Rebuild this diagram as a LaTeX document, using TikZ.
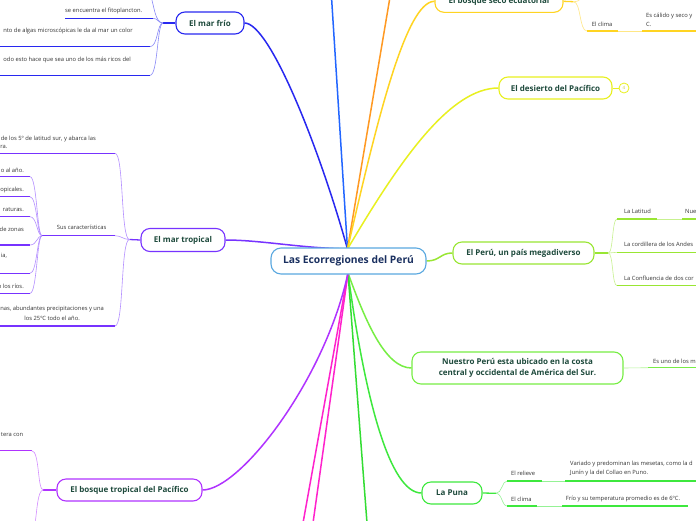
\documentclass[tikz,border=0pt]{standalone}
\usepackage{fontspec}
\setmainfont{Open Sans}
\definecolor{cblue1}{HTML}{2828F0}
\definecolor{cblue2}{HTML}{2266FF}
\definecolor{corange}{HTML}{FF9922}
\definecolor{cgold}{HTML}{FFD422}
\definecolor{cyellow}{HTML}{E8F020}
\definecolor{clime}{HTML}{99E633}
\definecolor{clime2}{HTML}{77EE44}
\definecolor{cgreen}{HTML}{3EE83E}
\definecolor{cgreen2}{HTML}{33DD33}
\definecolor{cmagenta}{HTML}{FF22CC}
\definecolor{cviolet}{HTML}{B033FF}
\definecolor{cpurple}{HTML}{7733FF}
\definecolor{ccentral}{HTML}{5AA8E0}
\definecolor{nodetxt}{HTML}{1E4A3C}
\definecolor{centraltxt}{HTML}{1A3060}
\definecolor{txtgray}{HTML}{333333}
\pgfdeclarelayer{bg}
\pgfsetlayers{bg,main}
\begin{document}
\begin{tikzpicture}[x=1pt,y=-1pt,
  topic/.style={draw=#1, line width=1.1pt, rounded corners=9pt, fill=white, text=nodetxt,
    font=\bfseries\fontsize{8}{10.5}\selectfont, inner sep=0pt, align=center},
  branch/.style={line width=1.5pt, draw=#1},
  conn/.style={line width=0.6pt, draw=#1!55},
  uline/.style={line width=1.3pt, draw=#1},
  lbl/.style={font=\fontsize{5.8}{9}\selectfont, text=txtgray, inner sep=0pt, align=left},
]
\useasboundingbox (0,0) rectangle (696,520);

% ---------- main nodes ----------
\node[topic=ccentral, text=centraltxt, font=\bfseries\fontsize{10.3}{12}\selectfont,
  minimum width=155pt, minimum height=26pt, rounded corners=10pt] (cen) at (348.5,261) {Las Ecorregiones del Perú};
\node[topic=cblue1, minimum width=68pt, minimum height=22pt] (frio) at (210,23) {El mar frío};
\node[topic=cpurple, minimum width=84pt, minimum height=23pt] (tropical) at (183,240) {El mar tropical};
\node[topic=cviolet, minimum width=145pt, minimum height=22pt] (bosquetrop) at (129.5,490) {El bosque tropical del Pacífico};
\node[topic=cgold, minimum width=128pt, minimum height=22pt] (seco) at (499,1.3) {El bosque seco ecuatorial};
\node[topic=cyellow, minimum width=113pt, minimum height=22pt] (desierto) at (555.5,88) {El desierto del Pacífico};
\node[circle, draw=cyellow, line width=0.8pt, minimum size=10pt, inner sep=0pt, fill=white,
  text=cyellow!70!gray, font=\fontsize{4.5}{5}\selectfont] (cnt) at (624,88) {4};
\node[topic=clime, minimum width=141pt, minimum height=22pt] (mega) at (523.5,253) {El Perú, un país megadiverso};
\node[topic=clime2, minimum width=211pt, minimum height=32pt] (nuestro) at (517.5,368) {Nuestro Perú esta ubicado en la costa\\central y occidental de América del Sur.};
\node[topic=cgreen, minimum width=60pt, minimum height=22pt] (puna) at (452,493) {La Puna};

% ---------- hub / free-end coordinates ----------
\coordinate (T) at (347.5,249);
\coordinate (B) at (348,273);
\coordinate (upblue) at (331.5,-3);
\coordinate (uporange) at (390,-3);
\coordinate (downgreen) at (367,523);
\coordinate (downmag1) at (303,523);
\coordinate (downmag2) at (313,523);

\begin{pgfonlayer}{bg}
\fill[white] (0,0) rectangle (696,520);
\draw[branch=cblue1] (T) .. controls (320,150) and (270,23) .. (frio.east);
\draw[branch=cblue2] (T) -- (upblue);
\draw[branch=corange] (T) -- (uporange);
\draw[branch=cgold] (T) .. controls (375,130) and (405,1.3) .. (seco.west);
\draw[branch=cyellow] (T) .. controls (400,160) and (450,88) .. (desierto.west);
\draw[branch=cpurple] (T) .. controls (300,248) and (260,240) .. (tropical.east);
\draw[branch=clime] (cen.east) .. controls (440,261) and (440,253) .. (mega.west);
\draw[branch=clime2] (B) .. controls (365,320) and (385,368) .. (nuestro.west);
\draw[branch=cgreen] (B) .. controls (365,400) and (390,493) .. (puna.west);
\draw[branch=cgreen2] (B) -- (downgreen);
\draw[branch=cmagenta] (B) -- (downmag1);
\draw[branch=cmagenta] (B) -- (downmag2);
\draw[branch=cviolet] (B) .. controls (325,380) and (240,490) .. (bosquetrop.east);
\end{pgfonlayer}

% ---------- El mar frío ----------
\coordinate (frioH) at (163,23);
\draw[uline=cblue1] (frio.west) -- (frioH);
\coordinate (f0) at (151,-3);
\draw[conn=cblue1] (frioH) .. controls +(-8,0) and +(3,8) .. (f0);
\node[lbl, anchor=west] (fito) at (65,11) {se encuentra el fitoplancton.};
\coordinate (fitoL) at (65,18.3); \coordinate (fitoR) at (153,18.3);
\draw[uline=cblue1] (fitoL) -- (fitoR);
\draw[conn=cblue1] (fitoR) .. controls +(5,0) and +(-5,0) .. (frioH);
\node[lbl, anchor=east] (algas) at (133,31) {nto de algas microscópicas le da al mar un color};
\coordinate (algasL) at (-3,46.7); \coordinate (algasR) at (150,46.7);
\draw[uline=cblue1] (algasL) -- (algasR);
\draw[conn=cblue1] (algasR) .. controls +(8,0) and +(-6,0) .. (frioH);
\node[lbl, anchor=east] (ricos) at (131,60) {odo esto hace que sea uno de los más ricos del};
\coordinate (ricosL) at (-3,75.3); \coordinate (ricosR) at (150,75.3);
\draw[uline=cblue1] (ricosL) -- (ricosR);
\draw[conn=cblue1] (ricosR) .. controls +(8,0) and +(-6,0) .. (frioH);

% ---------- El mar tropical ----------
\coordinate (tropH) at (129.5,239.5);
\draw[uline=cpurple] (tropical.west) -- (tropH);
\node[lbl, anchor=east] (lat1) at (96,139) {de los 5º de latitud sur, y abarca las};
\node[lbl, anchor=east] (lat2) at (7.5,146.7) {ra.};
\coordinate (latL) at (-3,153.3); \coordinate (latR) at (115,153.3);
\draw[uline=cpurple] (latL) -- (latR);
\draw[conn=cpurple] (latR) .. controls +(9,0) and +(-9,0) .. (tropH);

\node[lbl, anchor=west] (sus) at (56.7,227.7) {Sus características};
\coordinate (susL) at (42,235.7); \coordinate (susR) at (115,235.7);
\draw[uline=cpurple] (susL) -- (susR);
\draw[conn=cpurple] (susR) .. controls +(6,0) and +(-6,0) .. (tropH);

\foreach \nm/\tx/\ty/\uy/\txt in {s1/24/170/176.7/{o al año.}, s2/24/190/196.7/{opicales.},
  s3/24/210/216.7/{raturas.}, s4/24/229/245/{de zonas}, s5/7.3/256/273.3/{ia,},
  s6/24/286.7/293.3/{n los ríos.}}{
  \node[lbl, anchor=east] (\nm) at (\tx,\ty) {\txt};
  \coordinate (\nm L) at (-3,\uy); \coordinate (\nm R) at (30,\uy);
  \draw[uline=cpurple] (\nm L) -- (\nm R);
  \draw[conn=cpurple] (\nm R) .. controls +(7,0) and +(-5,0) .. (susL);
}

\node[lbl, anchor=east] (prec1) at (104,309) {nas, abundantes precipitaciones y una};
\node[lbl, anchor=east] (prec2) at (80,318) {los 25ºC todo el año.};
\coordinate (precL) at (-3,326); \coordinate (precR) at (115,326);
\draw[uline=cpurple] (precL) -- (precR);
\draw[conn=cpurple] (precR) .. controls +(9,0) and +(-9,0) .. (tropH);

% ---------- El bosque tropical del Pacífico ----------
\coordinate (btH) at (43.3,490);
\draw[uline=cviolet] (bosquetrop.west) -- (btH);
\node[lbl, anchor=east] (tera) at (23.3,434.3) {tera con};
\coordinate (teraL) at (-3,450.7); \coordinate (teraR) at (31.7,450.7);
\draw[uline=cviolet] (teraL) -- (teraR);
\draw[conn=cviolet] (teraR) .. controls +(8,0) and +(-6,0) .. (btH);
\coordinate (btD) at (35,523);
\draw[conn=cviolet] (btH) .. controls +(-6,0) and +(2,-10) .. (btD);

% ---------- El bosque seco ecuatorial ----------
\coordinate (secoH) at (573.3,1.7);
\draw[uline=cgold] (seco.east) -- (secoH);
\coordinate (secoU) at (582,-3);
\draw[conn=cgold] (secoH) .. controls +(5,0) and +(-2,3) .. (secoU);
\node[lbl, anchor=west] (sclima) at (591.7,24) {El clima};
\coordinate (scL) at (587,31); \coordinate (scR) at (618,31);
\coordinate (scCL) at (642,31); \coordinate (scCR) at (699,31);
\draw[conn=cgold] (secoH) .. controls +(8,0) and +(-8,0) .. (scL);
\draw[uline=cgold] (scL) -- (scR);
\draw[conn=cgold] (scR) -- (scCL);
\draw[uline=cgold] (scCL) -- (scCR);
\node[lbl, anchor=west] (calido) at (646,19.5) {Es cálido y seco y\\C.};

% ---------- El desierto ----------
\draw[line width=0.8pt, draw=cyellow] (desierto.east) -- (cnt.west);

% ---------- El Perú, un país megadiverso ----------
\coordinate (megaH) at (608.3,253);
\draw[uline=clime] (mega.east) -- (megaH);
\coordinate (m1L) at (617,219); \coordinate (m1R) at (657,219);
\coordinate (m1CL) at (682,219); \coordinate (m1CR) at (699,219);
\draw[conn=clime] (megaH) .. controls +(5,0) and +(-5,0) .. (m1L);
\draw[uline=clime] (m1L) -- (m1R);
\draw[conn=clime] (m1R) -- (m1CL);
\draw[uline=clime] (m1CL) -- (m1CR);
\node[lbl, anchor=west] (latitud) at (624,211) {La Latitud};
\node[lbl, anchor=west] (nue) at (685,211) {Nue};
\coordinate (m2L) at (617,252.3); \coordinate (m2R) at (699,252.3);
\draw[conn=clime] (megaH) -- (m2L);
\draw[uline=clime] (m2L) -- (m2R);
\node[lbl, anchor=west] (andes) at (624,244.3) {La cordillera de los Andes};
\coordinate (m3L) at (617,285.7); \coordinate (m3R) at (699,285.7);
\draw[conn=clime] (megaH) .. controls +(5,0) and +(-5,0) .. (m3L);
\draw[uline=clime] (m3L) -- (m3R);
\node[lbl, anchor=west] (confl) at (624,278.3) {La Confluencia de dos cor};

% ---------- Nuestro Perú ----------
\coordinate (nuL) at (648.3,367.7); \coordinate (nuR) at (699,367.7);
\draw[conn=clime2] (nuestro.east) -- (nuL);
\draw[uline=clime2] (nuL) -- (nuR);
\node[lbl, anchor=west] (esuno) at (653,361) {Es uno de los m};

% ---------- La Puna ----------
\coordinate (punaH) at (496,493.3);
\draw[uline=cgreen] (puna.east) -- (punaH);
\coordinate (p1L) at (507,481); \coordinate (p1R) at (542,481);
\coordinate (p1CL) at (565,481); \coordinate (p1CR) at (699,481);
\draw[conn=cgreen] (punaH) .. controls +(6,0) and +(-5,0) .. (p1L);
\draw[uline=cgreen] (p1L) -- (p1R);
\draw[conn=cgreen] (p1R) -- (p1CL);
\draw[uline=cgreen] (p1CL) -- (p1CR);
\node[lbl, anchor=west] (relieve) at (511,473.3) {El relieve};
\node[lbl, anchor=west] (variado) at (570,468.8) {Variado y predominan las mesetas, como la d\\Junín y  la del Collao en Puno.};
\coordinate (p2L) at (507,506); \coordinate (p2R) at (537,506);
\coordinate (p2CL) at (562,506); \coordinate (p2CR) at (688,506);
\draw[conn=cgreen] (punaH) .. controls +(6,0) and +(-5,0) .. (p2L);
\draw[uline=cgreen] (p2L) -- (p2R);
\draw[conn=cgreen] (p2R) -- (p2CL);
\draw[uline=cgreen] (p2CL) -- (p2CR);
\node[lbl, anchor=west] (pclima) at (511,499) {El clima};
\node[lbl, anchor=west] (frio6) at (565.7,499) {Frío y su temperatura promedio es de 6ºC.};
\end{tikzpicture}
\end{document}
